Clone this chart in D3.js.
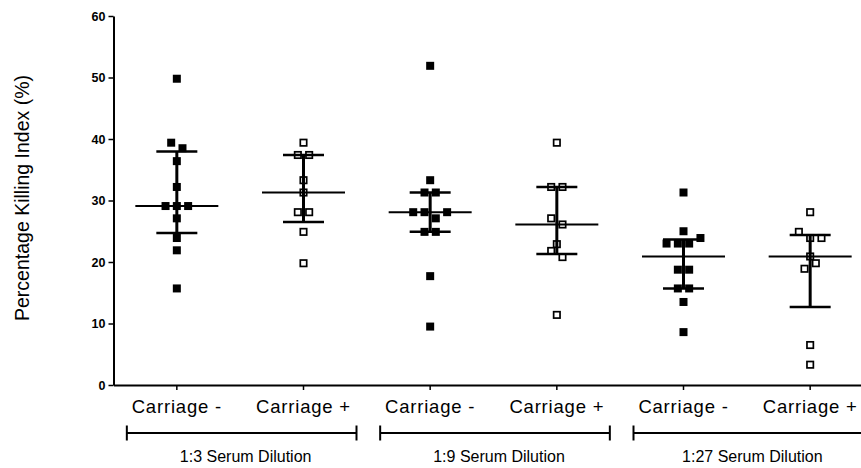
<!DOCTYPE html>
<html>
<head>
<meta charset="utf-8">
<script src="https://cdn.jsdelivr.net/npm/d3@7"></script>
<style>
  body { margin: 0; background: #fff; }
  svg { display: block; font-family: "Liberation Sans", Arial, sans-serif; }
</style>
</head>
<body>
<div id="chart"></div>
<script>
// values (percentage killing index)
const dilutions = ["1:3 Serum Dilution", "1:9 Serum Dilution", "1:27 Serum Dilution"];
const carriage = ["Carriage -", "Carriage +"];
const yTicks = [0, 10, 20, 30, 40, 50, 60];

const c3Neg = [49.8, 39.4, 38.5, 36.4, 32.2, 29.1, 29.1, 29.1, 27.1, 23.9, 21.9, 15.7];
const c3Pos = [39.4, 37.4, 37.4, 33.3, 31.3, 28.1, 28.1, 24.9, 19.8];
const c9Neg = [51.9, 33.3, 31.3, 31.3, 28.1, 28.1, 27.1, 28.1, 24.9, 24.9, 17.7, 9.5];
const c9Pos = [39.4, 32.2, 32.2, 27.1, 26.1, 22.9, 21.8, 20.8, 11.4];
const c27Neg = [31.3, 25.0, 23.0, 23.0, 23.0, 23.9, 18.75, 18.75, 15.7, 15.7, 13.5, 8.6];
const c27Pos = [28.1, 24.9, 23.9, 23.9, 20.9, 18.9, 19.8, 6.5, 3.3];

const seriesValues = [c3Neg, c3Pos, c9Neg, c9Pos, c27Neg, c27Pos];

const width = 861, height = 468;

const cats = [];
dilutions.forEach((d, i) => carriage.forEach((c, j) => {
  cats.push({key: `${i}_${j}`, dilution: i, label: c, filled: j === 0, values: seriesValues[i * 2 + j]});
}));

const svg = d3.select("#chart").append("svg")
  .attr("width", width)
  .attr("height", height);

const y = d3.scaleLinear().domain([0, 60]).range([385, 16]);
const x = d3.scaleBand().domain(cats.map(d => d.key)).range([113.5, 873.5]);
const cx = k => x(k) + x.bandwidth() / 2;

// prism style quartiles, (n+1)p
const quart = (vals, p) => {
  const s = vals.slice().sort(d3.ascending);
  const n = s.length;
  const h = (n + 1) * p;
  const lo = Math.floor(h);
  if (lo < 1) return s[0];
  if (lo >= n) return s[n - 1];
  return s[lo - 1] + (h - lo) * (s[lo] - s[lo - 1]);
};

// spread points that sit on about the same level into a row
const swarm = (vals) => {
  const step = 11.3, thr = 6.5;
  const order = d3.range(vals.length).sort((a, b) => vals[b] - vals[a] || a - b);
  const rows = [];
  order.forEach(i => {
    const row = rows[rows.length - 1];
    if (row && y(vals[i]) - y(vals[row[0]]) < thr) row.push(i);
    else rows.push([i]);
  });
  const off = new Array(vals.length);
  rows.forEach(row => {
    row.sort((a, b) => a - b);
    row.forEach((i, k) => { off[i] = (k - (row.length - 1) / 2) * step; });
  });
  return off;
};

// axes
const yAxis = svg.append("g")
  .attr("transform", `translate(${113.5},0)`)
  .call(d3.axisLeft(y).tickValues(yTicks).tickSize(5).tickSizeOuter(0).tickPadding(3));
yAxis.select(".domain").attr("stroke", "#000").attr("stroke-width", 2);
yAxis.selectAll(".tick line").attr("stroke", "#000").attr("stroke-width", 1.5);
yAxis.selectAll(".tick text")
  .attr("fill", "#000")
  .style("font-size", "12.5px")
  .style("font-weight", "bold")
  .style("font-family", "'Liberation Sans', Arial, sans-serif");

const xAxis = svg.append("g")
  .attr("transform", `translate(0,${385})`)
  .call(d3.axisBottom(x).tickSize(5).tickSizeOuter(0).tickPadding(8)
    .tickFormat(k => cats.find(c => c.key === k).label));
xAxis.select(".domain").attr("stroke", "#000").attr("stroke-width", 2);
xAxis.selectAll(".tick line").attr("stroke", "#000").attr("stroke-width", 1.5);
xAxis.selectAll(".tick text")
  .attr("fill", "#000")
  .attr("y", 28)
  .attr("dy", 0)
  .style("font-size", "18.5px")
  .style("letter-spacing", "0.8px")
  .style("font-family", "'Liberation Sans', Arial, sans-serif");

// y title
svg.append("text")
  .attr("transform", `translate(28.5,${198}) rotate(-90)`)
  .attr("text-anchor", "middle")
  .style("font-size", "19.5px")
  .text("Percentage Killing Index (%)");

// dilution brackets
dilutions.forEach((d, i) => {
  const x0 = cx(`${i}_0`) - 50, x1 = cx(`${i}_1`) + 53;
  const g = svg.append("g").attr("stroke", "#000").attr("stroke-width", 2);
  g.append("line").attr("x1", x0).attr("x2", x1).attr("y1", 433).attr("y2", 433);
  g.append("line").attr("x1", x0).attr("x2", x0).attr("y1", 425.5).attr("y2", 440.5);
  g.append("line").attr("x1", x1).attr("x2", x1).attr("y1", 425.5).attr("y2", 440.5);
  svg.append("text")
    .attr("x", (x0 + x1) / 2 + 4)
    .attr("y", 462)
    .attr("text-anchor", "middle")
    .style("font-size", "16px")
    .text(d);
});

// points
cats.forEach(c => {
  const off = swarm(c.values);
  const g = svg.append("g");
  const sz = c.filled ? 8 : 6.4;
  g.selectAll("rect")
    .data(c.values)
    .join("rect")
    .attr("x", (v, i) => cx(c.key) + off[i] - sz / 2)
    .attr("y", v => y(v) - sz / 2)
    .attr("width", sz)
    .attr("height", sz)
    .attr("fill", c.filled ? "#000" : "#fff")
    .attr("stroke", c.filled ? "none" : "#000")
    .attr("stroke-width", 1.7);

  const med = d3.median(c.values), q1 = quart(c.values, 0.25), q3 = quart(c.values, 0.75);
  const m = cx(c.key);
  const s = svg.append("g").attr("stroke", "#000");
  s.append("line").attr("x1", m - 41.5).attr("x2", m + 41.5)
    .attr("y1", y(med)).attr("y2", y(med)).attr("stroke-width", 2);
  s.append("line").attr("x1", m).attr("x2", m)
    .attr("y1", y(q1)).attr("y2", y(q3)).attr("stroke-width", 3);
  [q1, q3].forEach(q => {
    s.append("line").attr("x1", m - 20.5).attr("x2", m + 20.5)
      .attr("y1", y(q)).attr("y2", y(q)).attr("stroke-width", 2.5);
  });
});
</script>
</body>
</html>
